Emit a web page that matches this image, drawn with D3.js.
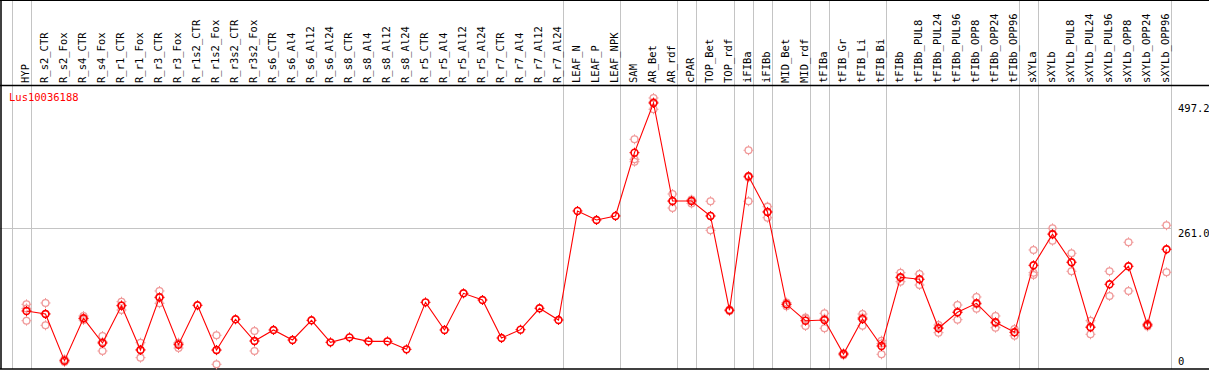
<!DOCTYPE html>
<html>
<head>
<meta charset="utf-8">
<script src="https://cdn.jsdelivr.net/npm/d3@7"></script>
<style>
  html, body { margin: 0; padding: 0; background: #fff; }
  svg { display: block; }
  text { font-family: "DejaVu Sans Mono", monospace; }
</style>
</head>
<body>
<div id="chart"></div>
<script>
const categories = ["HYP","R_s2_CTR","R_s2_Fox","R_s4_CTR","R_s4_Fox","R_r1_CTR","R_r1_Fox","R_r3_CTR","R_r3_Fox",
  "R_r1s2_CTR","R_r1s2_Fox","R_r3s2_CTR","R_r3s2_Fox","R_s6_CTR","R_s6_Al4","R_s6_Al12","R_s6_Al24",
  "R_s8_CTR","R_s8_Al4","R_s8_Al12","R_s8_Al24","R_r5_CTR","R_r5_Al4","R_r5_Al12","R_r5_Al24",
  "R_r7_CTR","R_r7_Al4","R_r7_Al12","R_r7_Al24","LEAF_N","LEAF_P","LEAF_NPK","SAM","AR_Bet","AR_rdf",
  "cPAR","TOP_Bet","TOP_rdf","iFIBa","iFIBb","MID_Bet","MID_rdf","tFIBa","tFIB_Gr","tFIB_Li","tFIB_Bi",
  "tFIBb","tFIBb_PUL8","tFIBb_PUL24","tFIBb_PUL96","tFIBb_OPP8","tFIBb_OPP24","tFIBb_OPP96",
  "sXYLa","sXYLb","sXYLb_PUL8","sXYLb_PUL24","sXYLb_PUL96","sXYLb_OPP8","sXYLb_OPP24","sXYLb_OPP96"];

const means = [105.2, 99.5, 11.5, 91.4, 44.9, 115.2, 31.7, 131, 41.7,
  115.9, 31.7, 89.5, 48.6, 69.4, 50.5, 87.6, 46.1,
  55.5, 48, 48, 32.9, 121.5, 69.4, 138.5, 125.9,
  54.3, 70, 110.3, 88.2, 293.7, 276.7, 284.3, 403.6, 497.2, 312.5,
  312.5, 284.3, 106.5, 359.1, 291.8, 117.8, 86.9, 88.2, 24.1, 90.1, 39.2,
  168.7, 164.9, 72.6, 102.7, 119.7, 83.9, 65,
  191.3, 249.8, 197, 74.5, 155.5, 189.4, 78.8, 221.5];

// replicate samples (empty where only one sample)
const replicates = [
  [117.8, 86.9, 110], [120.3, 78.2, 100], [14, 9, 11], [95.8, 88.2, 91], [58, 29.8, 47],
  [122.7, 107, 116], [45.4, 17.2, 32], [142.9, 119.7, 130], [45.4, 35.4, 44],
  [], [59.4, 4.7, 31], [], [67.5, 29.8, 48.5], [], [], [], [],
  [], [], [], [], [], [], [], [],
  [], [], [], [], [], [], [], [428.8, 391.1, 386.6], [506.7, 485.4, 499], [325.7, 299.3, 312],
  [313.8, 308, 315], [312, 257.3, 284], [105, 108], [408.1, 312, 357], [301.8, 281, 292],
  [121, 114, 118], [92.6, 76.9, 91], [100.8, 72.6, 91], [26, 22, 24], [99.5, 77.5, 93], [49.2, 23.6, 44],
  [177.4, 160.4, 168], [174.9, 154.2, 165], [78.8, 64.3, 74], [116.5, 88.8, 103], [131.6, 109.5, 118],
  [95.8, 73.7, 82], [71.3, 58.6, 65],
  [220.2, 177.4, 173], [261, 237.7, 251], [213.9, 180, 197], [86.9, 61.3, 75], [180, 133.5],
  [234.7, 142.9], [81, 76, 79], [266.7, 178.1]];

// last category of each group (vertical separators)
const groupEnds = ["HYP","R_r7_Al24","LEAF_NPK","AR_rdf","cPAR","TOP_rdf","iFIBa","iFIBb","MID_rdf",
  "tFIBa","tFIB_Bi","tFIBb_OPP96","sXYLa","sXYLb_OPP96"];

const yTicks = [497.2, 261.0, 0];
const geneName = "Lus10036188";

const width = 1209, height = 370;
const headerBottom = 85.5, plotBottom = 369;

const svg = d3.select("#chart").append("svg")
  .attr("width", width).attr("height", height);

const x = d3.scalePoint().domain(categories).range([26.5, 1166.5]);
const y = d3.scaleLinear().domain([0, 497.2]).range([366.8, 103]);
const step = x.step();

// vertical separators
const sepX = [x(categories[0]) - step + 4].concat(groupEnds.map(c => x(c) + 4));
svg.selectAll("line.sep").data(sepX).join("line")
  .attr("class", "sep")
  .attr("x1", d => Math.round(d) + 0.5).attr("x2", d => Math.round(d) + 0.5)
  .attr("y1", 0).attr("y2", plotBottom)
  .attr("stroke", "#c4c4c4").attr("stroke-width", 1);

// horizontal gridline
svg.append("line")
  .attr("x1", 0).attr("x2", Math.round(x(categories[categories.length - 1]) + 4) + 0.5)
  .attr("y1", Math.round(y(261.0)) + 0.5).attr("y2", Math.round(y(261.0)) + 0.5)
  .attr("stroke", "#c4c4c4").attr("stroke-width", 1);

// frame
svg.append("line").attr("x1", 0).attr("x2", width).attr("y1", 0.5).attr("y2", 0.5).attr("stroke", "#000");
svg.append("line").attr("x1", 0).attr("x2", width).attr("y1", headerBottom).attr("y2", headerBottom)
  .attr("stroke", "#000").attr("stroke-width", 1.5);
svg.append("line").attr("x1", 0).attr("x2", width).attr("y1", plotBottom).attr("y2", plotBottom)
  .attr("stroke", "#000").attr("stroke-width", 1.5);
svg.append("line").attr("x1", 1).attr("x2", 1).attr("y1", 0).attr("y2", plotBottom)
  .attr("stroke", "#000").attr("stroke-width", 1.5);

// category labels
svg.selectAll("text.cat").data(categories).join("text")
  .attr("class", "cat")
  .attr("transform", d => `translate(${x(d) + 2.5},83) rotate(-90)`)
  .attr("font-size", "10.5px")
  .attr("fill", "#000")
  .text(d => d);

// gene name
svg.append("text")
  .attr("x", 9).attr("y", 101)
  .attr("font-size", "10.5px")
  .attr("fill", "#ff0000")
  .text(geneName);

// right axis labels
svg.selectAll("text.ytick").data(yTicks).join("text")
  .attr("class", "ytick")
  .attr("x", 1178)
  .attr("y", d => d === 0 ? y(d) - 2 : y(d) + 9)
  .attr("font-size", "10.5px")
  .attr("fill", "#000")
  .text(d => d === 0 ? "0" : d.toFixed(1));

function marker(g, cx, cy, color, sw) {
  g.append("circle").attr("cx", cx).attr("cy", cy).attr("r", 3.4)
    .attr("fill", "none").attr("stroke", color).attr("stroke-width", sw);
  [[0, -1], [0, 1], [-1, 0], [1, 0]].forEach(([dx, dy]) => {
    g.append("line")
      .attr("x1", cx + dx * 3.4).attr("y1", cy + dy * 3.4)
      .attr("x2", cx + dx * 5).attr("y2", cy + dy * 5)
      .attr("stroke", color).attr("stroke-width", 1);
  });
}

// replicates
const repG = svg.append("g");
categories.forEach((c, i) => {
  replicates[i].forEach(v => marker(repG, x(c), y(v), "#f09a9a", 1.3));
});

// mean line
const line = d3.line().x((d, i) => x(categories[i])).y(d => y(d));
svg.append("path").datum(means)
  .attr("d", line)
  .attr("fill", "none")
  .attr("stroke", "#ff0000")
  .attr("stroke-width", 1.1);

// mean markers
const meanG = svg.append("g");
categories.forEach((c, i) => marker(meanG, x(c), y(means[i]), "#ff0000", 1.6));
</script>
</body>
</html>
